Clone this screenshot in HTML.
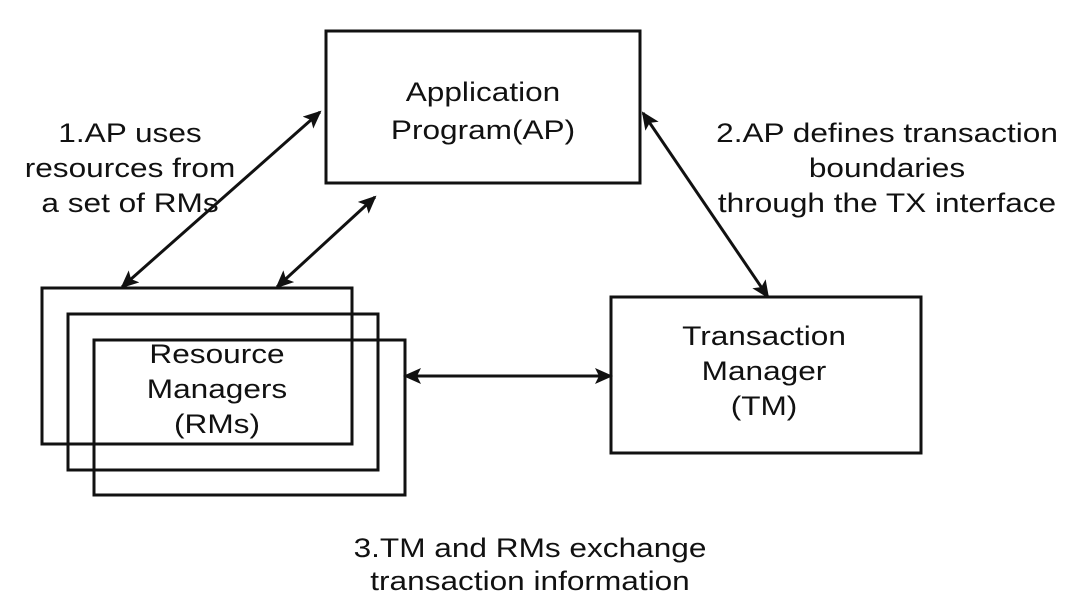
<!DOCTYPE html>
<html><head><meta charset="utf-8"><style>
html,body{margin:0;padding:0;background:#fff;}
svg{display:block}
text{font-family:"Liberation Sans",sans-serif;font-size:27px;fill:#111;text-anchor:middle}
</style></head><body>
<svg width="1080" height="616" viewBox="0 0 1080 616" xmlns="http://www.w3.org/2000/svg">
<defs>
<marker id="b" markerWidth="18" markerHeight="16" refX="16" refY="8" orient="auto-start-reverse" markerUnits="userSpaceOnUse">
<path d="M0,0 L18,8 L0,16 L4,8 z" fill="#111"/>
</marker>
</defs>
<g fill="none" stroke="#111" stroke-width="3">
<rect x="326" y="31" width="314" height="152"/>
<rect x="42" y="288" width="310" height="156"/>
<rect x="68" y="314" width="310" height="156"/>
<rect x="94" y="340" width="311" height="155"/>
<rect x="611" y="297" width="310" height="156"/>
<line x1="122" y1="287" x2="320" y2="112" marker-start="url(#b)" marker-end="url(#b)"/>
<line x1="277" y1="287" x2="375" y2="197" marker-start="url(#b)" marker-end="url(#b)"/>
<line x1="643" y1="113" x2="768" y2="297" marker-start="url(#b)" marker-end="url(#b)"/>
<line x1="405" y1="376" x2="611" y2="376" marker-start="url(#b)" marker-end="url(#b)"/>
</g>
<g transform="translate(483,0) scale(1.17,1)"><text x="0" y="101">Application</text><text x="0" y="139">Program(AP)</text></g>
<g transform="translate(130,0) scale(1.17,1)"><text x="0" y="142">1.AP uses</text><text x="0" y="177">resources from</text><text x="0" y="212">a set of RMs</text></g>
<g transform="translate(887,0) scale(1.17,1)"><text x="0" y="142">2.AP defines transaction</text><text x="0" y="177">boundaries</text><text x="0" y="212">through the TX interface</text></g>
<g transform="translate(217,0) scale(1.17,1)"><text x="0" y="363">Resource</text><text x="0" y="398">Managers</text><text x="0" y="433">(RMs)</text></g>
<g transform="translate(764,0) scale(1.17,1)"><text x="0" y="345">Transaction</text><text x="0" y="380">Manager</text><text x="0" y="415">(TM)</text></g>
<g transform="translate(530,0) scale(1.17,1)"><text x="0" y="557">3.TM and RMs exchange</text><text x="0" y="590">transaction information</text></g>
</svg>
</body></html>
